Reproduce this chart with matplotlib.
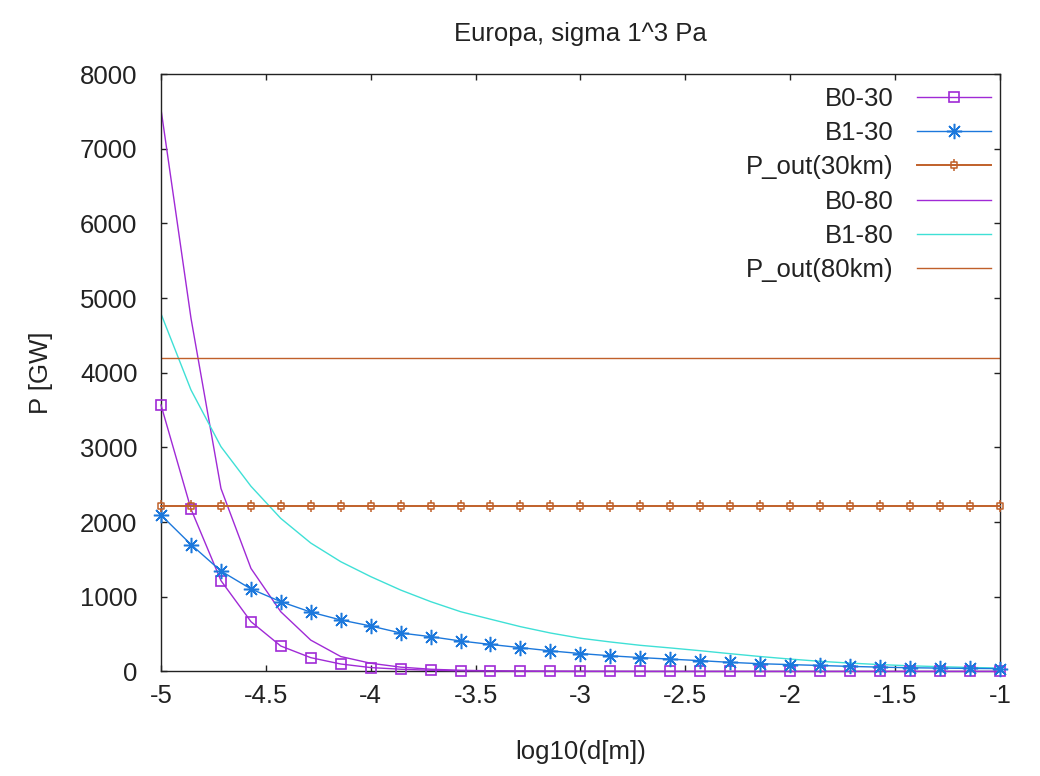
import numpy as np
import matplotlib.pyplot as plt
from matplotlib.path import Path

plt.rcParams['font.family'] = ['Liberation Sans', 'DejaVu Sans']

# log10 of d [m], samples shared by all curves
x_log = [-5.0, -4.857, -4.714, -4.571, -4.429, -4.286, -4.143, -4.0, -3.857, -3.714,
         -3.571, -3.429, -3.286, -3.143, -3.0, -2.857, -2.714, -2.571, -2.429, -2.286,
         -2.143, -2.0, -1.857, -1.714, -1.571, -1.429, -1.286, -1.143, -1.0]

# power in GW
b0_30 = [3568, 2175, 1216, 667, 341, 185, 100, 52, 30, 16,
         9, 5, 3, 2, 1, 1, 0.5, 0.3, 0.2, 0.1,
         0.1, 0.05, 0, 0, 0, 0, 0, 0, 0]
b1_30 = [2095, 1700, 1345, 1105, 935, 795, 690, 609, 515, 466,
         408, 362, 319, 276, 240, 210, 186, 165, 145, 122,
         104, 92, 80, 68, 58, 50, 45, 41, 38]
p_out_30 = 2220
b0_80 = [7530, 4730, 2450, 1380, 800, 420, 200, 110, 58, 30,
         16, 9, 5, 3, 2, 1, 0.5, 0.3, 0.2, 0.1,
         0.1, 0, 0, 0, 0, 0, 0, 0, 0]
b1_80 = [4790, 3770, 3010, 2480, 2050, 1720, 1470, 1270, 1090, 935,
         800, 700, 600, 515, 445, 395, 350, 315, 278, 238,
         200, 166, 136, 112, 92, 76, 64, 54, 45]
p_out_80 = 4200

c_b0 = '#a02ad6'
c_b1 = '#1c78dc'
c_out = '#c0602a'
c_cyan = '#3fe0d6'

# gnuplot-like "square with stubs" marker
box_marker = Path([(-0.5, -0.5), (0.5, -0.5), (0.5, 0.5), (-0.5, 0.5), (-0.5, -0.5),
                   (0, 0.5), (0, 0.9), (0, -0.5), (0, -0.9)],
                  [Path.MOVETO, Path.LINETO, Path.LINETO, Path.LINETO, Path.CLOSEPOLY,
                   Path.MOVETO, Path.LINETO, Path.MOVETO, Path.LINETO])

fig = plt.figure(figsize=(10.4, 7.76), dpi=100)
ax = fig.add_axes([0.1548, 0.1347, 0.8067, 0.7699])

ax.plot(x_log, b0_30, color=c_b0, lw=1.0, marker='s', ms=7, mfc='none', mec=c_b0,
        mew=1.2, label='B0-30', clip_on=False, zorder=3)
ax.plot(x_log, b1_30, color=c_b1, lw=1.0, marker=(8, 2, 0), ms=11, mec=c_b1,
        mew=1.1, label='B1-30', clip_on=False, zorder=3)
ax.plot(x_log, [p_out_30] * len(x_log), color=c_out, lw=1.4, marker=box_marker, ms=8,
        mfc='none', mec=c_out, mew=1.1, label='P_out(30km)', clip_on=False, zorder=3)
ax.plot(x_log, b0_80, color=c_b0, lw=1.0, label='B0-80')
ax.plot(x_log, b1_80, color=c_cyan, lw=1.0, label='B1-80')
ax.plot(x_log, [p_out_80] * len(x_log), color=c_out, lw=1.0, label='P_out(80km)')

ax.set_xlim(-5, -1)
ax.set_ylim(0, 8000)
ax.set_xticks(np.arange(-5, -0.99, 0.5))
ax.set_xticklabels(['-5', '-4.5', '-4', '-3.5', '-3', '-2.5', '-2', '-1.5', '-1'])
ax.set_yticks(np.arange(0, 8001, 1000))

fs = 18.5
ax.tick_params(direction='in', length=4.5, width=1, top=True, right=True,
               labelsize=fs, colors='#222222', labelcolor='#222222')
ax.tick_params(axis='y', pad=17)
ax.tick_params(axis='x', pad=9)
for s in ax.spines.values():
    s.set_linewidth(1.0)
    s.set_color('#222222')

ax.set_title('Europa, sigma 1^3 Pa', fontsize=fs, color='#222222', pad=24)
ax.set_xlabel('log10(d[m])', fontsize=fs, color='#222222', labelpad=23)
ax.set_ylabel('P [GW]', fontsize=fs, color='#222222', labelpad=19)

leg = ax.legend(loc='upper right', bbox_to_anchor=(1.005, 1.0), frameon=False, fontsize=fs,
                markerfirst=False, alignment='right', handlelength=2.9,
                handletextpad=0.9, labelspacing=0.4, borderpad=0.5, borderaxespad=0)
for t in leg.get_texts():
    t.set_color('#222222')

fig.savefig('out.png', dpi=100)
